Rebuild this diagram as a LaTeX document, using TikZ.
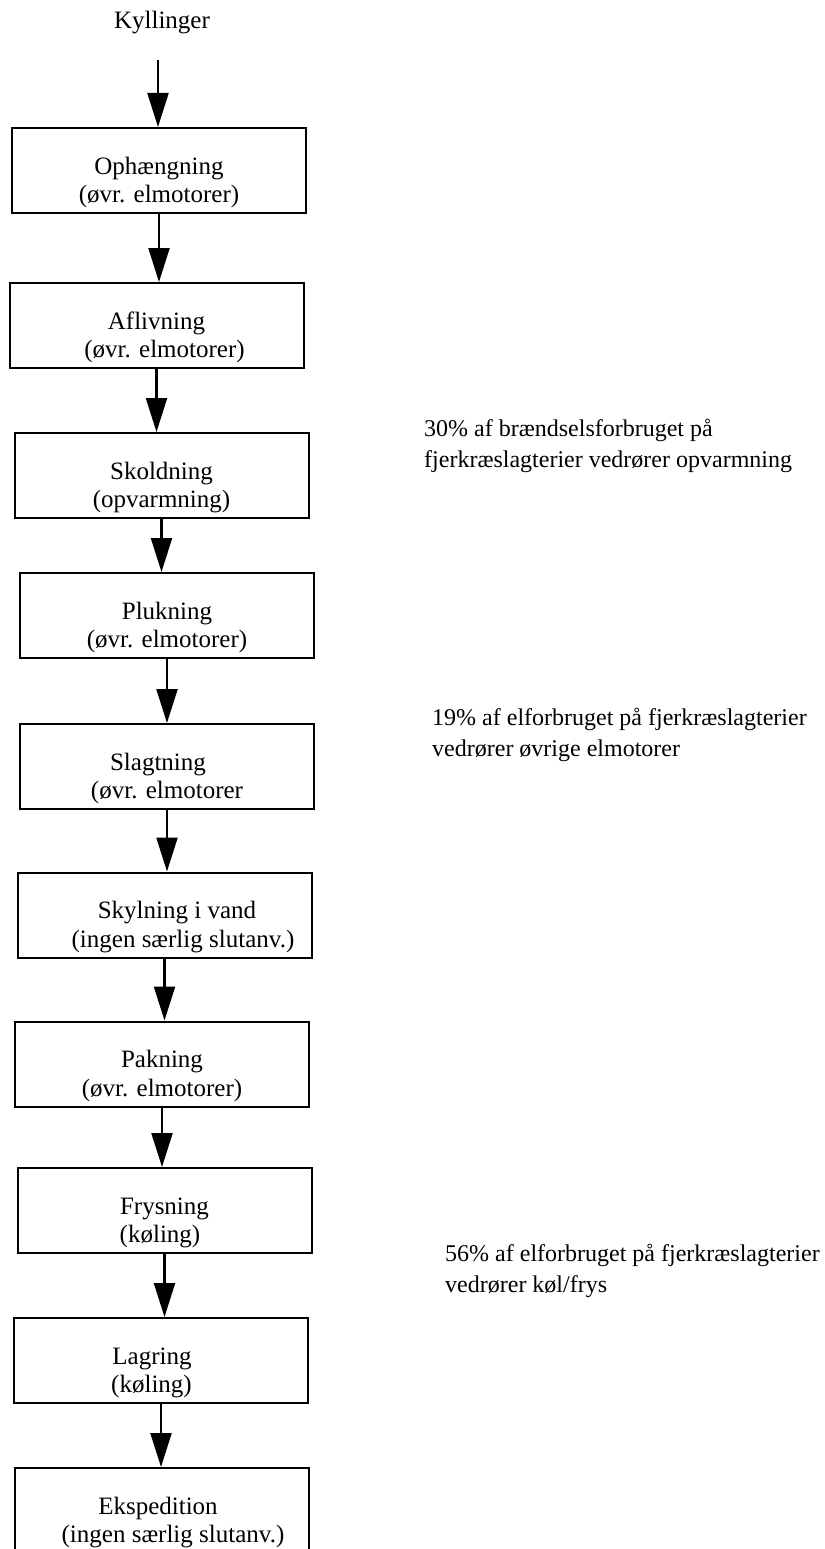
\documentclass[tikz,border=0pt]{standalone}
\usepackage{fontspec}
\setmainfont{Liberation Serif}
\usetikzlibrary{arrows.meta}

\begin{document}
\begin{tikzpicture}
  [x=1pt,y=-1pt,font=\fontsize{25}{28.5}\selectfont,
   stage/.style={draw,line width=2pt,minimum width=294pt,minimum height=85pt,inner sep=0pt,align=center,
     text height=70pt},
   note/.style={anchor=base west,align=left,inner sep=0pt,font=\fontsize{24}{31}\selectfont},
   flow/.style={line width=2.2pt,-{Triangle[length=34pt,width=21pt]}}]
  \useasboundingbox (0,0) rectangle (824,1549);
  \node[anchor=base,inner sep=0pt] (top) at (162,29) {Kyllinger};
  \coordinate (entry) at (158,60);

  \node[stage] (b1) at (159,170.5)    {Ophængning\\(øvr. elmotorer)};
  \node[stage] (b2) at (156.5,325.5)  {Aflivning\\\hspace*{16pt}(øvr. elmotorer)};
  \node[stage] (b3) at (161.5,475.5)  {Skoldning\\(opvarmning)};
  \node[stage] (b4) at (167,615.5)    {Plukning\\(øvr. elmotorer)};
  \node[stage] (b5) at (167,766.5)    {Slagtning\hspace*{18pt}\\(øvr. elmotorer};
  \node[stage] (b6) at (164.5,915)    {\hspace*{25pt}Skylning i vand\\\hspace*{37pt}(ingen særlig slutanv.)};
  \node[stage] (b7) at (162,1064)     {Pakning\\(øvr. elmotorer)};
  \node[stage] (b8) at (164.5,1210.5) {Frysning\\(køling)\hspace*{9pt}};
  \node[stage] (b9) at (161,1360.5)   {Lagring\hspace*{18pt}\\(køling)\hspace*{19pt}};
  \node[stage] (b10) at (161.5,1510.5) {Ekspedition\hspace*{7pt}\\\hspace*{23pt}(ingen særlig slutanv.)};

  \node[note] (n1) at (424,467)  {30\% af brændselsforbruget på\\fjerkræslagterier vedrører opvarmning};
  \node[note] (n2) at (432,756)  {19\% af elforbruget på fjerkræslagterier\\vedrører øvrige elmotorer};
  \node[note] (n3) at (445,1292) {56\% af elforbruget på fjerkræslagterier\\vedrører køl/frys};

  \draw[flow] (entry) -- (entry |- b1.north);
  \foreach \from/\to in {b1/b2,b2/b3,b3/b4,b4/b5,b5/b6,b6/b7,b7/b8,b8/b9,b9/b10}
    \draw[flow] (\from.south) -- (\from.south |- \to.north);
\end{tikzpicture}
\end{document}
